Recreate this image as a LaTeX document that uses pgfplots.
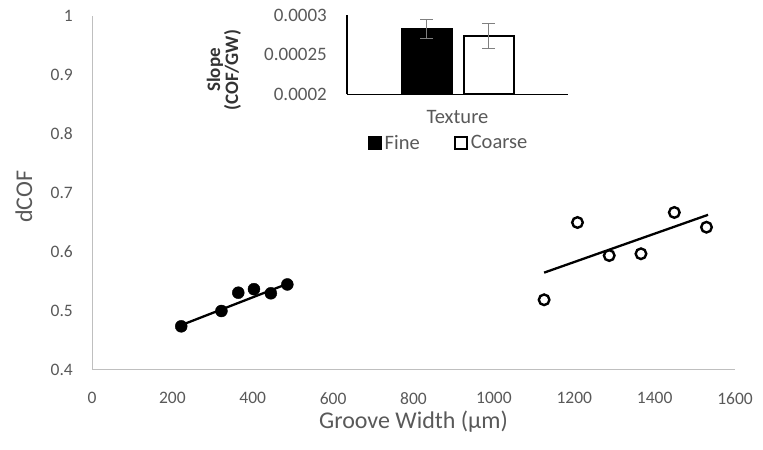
\documentclass[border=0pt]{standalone}
\usepackage{pgfplots}
\pgfplotsset{compat=1.18}
\usepackage{fontspec}
\setmainfont{Carlito}
\definecolor{txt}{HTML}{595959}
\definecolor{axln}{HTML}{BFBFBF}
\begin{document}
\begin{tikzpicture}[x=1bp,y=1bp]
\useasboundingbox (0,0) rectangle (763,450);
\begin{axis}[
  at={(92bp,80bp)}, anchor=south west,
  scale only axis, width=643bp, height=354bp,
  xmin=0, xmax=1600, ymin=0.4, ymax=1,
  axis lines*=left,
  axis line style={axln, line width=1bp},
  xtick={0,200,400,600,800,1000,1200,1400,1600},
  ytick={0.4,0.5,0.6,0.7,0.8,0.9,1},
  major tick length=0pt,
  /pgf/number format/assume math mode=true,
  /pgf/number format/1000 sep={},
  tick label style={font=\fontsize{17.5bp}{20bp}\selectfont, text=txt},
  yticklabel style={anchor=east, inner sep=0pt, xshift=-19bp},
  xticklabel style={anchor=north, inner sep=0pt, yshift=-22bp},
  label style={font=\fontsize{24bp}{28bp}\selectfont, text=txt},
  xlabel={Groove Width (µm)},
  ylabel={dCOF},
  xlabel style={at={(axis description cs:0.5,-0.147)}, anchor=center},
  ylabel style={at={(axis description cs:-0.1058,0.489)}, anchor=center},
  clip=false,
]
% Fine texture
\addplot[only marks, mark=*, mark size=6bp, mark options={fill=black, draw=black}]
  coordinates {(222,0.474) (322,0.500) (364,0.531) (403,0.537) (445,0.530) (486,0.545)};
\addplot[black, line width=2.3bp, no marks]
  coordinates {(222,0.476) (486,0.546)};
% Coarse texture
\addplot[only marks, mark=o, mark size=5.3bp, mark options={draw=black, fill=white, line width=2.4bp}]
  coordinates {(1125,0.519) (1208,0.650) (1287,0.594) (1366,0.597) (1449,0.667) (1529,0.642)};
\addplot[black, line width=2.3bp, no marks]
  coordinates {(1125,0.565) (1533,0.663)};
\end{axis}

\begin{axis}[
  at={(347bp,355.7bp)}, anchor=south west,
  scale only axis, width=221bp, height=79.3bp,
  ybar=12bp, bar width=50bp,
  xmin=-1, xmax=1, ymin=0.0002, ymax=0.0003,
  axis lines*=left,
  axis line style={black, line width=1.5bp},
  xtick=\empty,
  scaled y ticks=false,
  ytick={0.0002,0.00025,0.0003},
  yticklabels={0.0002,0.00025,0.0003},
  major tick length=0pt,
  yticklabel style={anchor=east, inner sep=0pt, xshift=-20bp, font=\fontsize{19bp}{22bp}\selectfont, text=txt},
  xlabel={Texture},
  xlabel style={at={(axis description cs:0.5,-0.286)}, anchor=center, font=\fontsize{20.5bp}{24bp}\selectfont, text=txt},
  ylabel={Slope\\(COF/GW)},
  ylabel style={at={(axis description cs:-0.557,0.306)}, anchor=center, align=center, font=\fontsize{19bp}{17bp}\selectfont\bfseries, text=black!80},
  legend image code/.code={\draw[#1, line width=2bp] (0bp,-6bp) rectangle (12bp,6bp);},
  legend columns=2,
  legend style={draw=none, fill=none, at={(axis description cs:0.095,-0.614)}, anchor=west, inner sep=0pt,
    font=\fontsize{20.5bp}{24bp}\selectfont, text=txt,
    nodes={inner sep=2.5bp},
    /tikz/every even column/.append style={column sep=32bp}},
  legend cell align=left,
]
\addplot[fill=black, draw=black, line width=2bp,
  error bars/.cd, y dir=both, y explicit,
  error bar style={line width=1bp, color=gray},
  error mark options={rotate=90, mark size=6.5bp, line width=1bp, color=gray}]
  coordinates {(0,0.0002823) +- (0,0.0000115)};
\addplot[fill=white, draw=black, line width=2bp,
  error bars/.cd, y dir=both, y explicit,
  error bar style={line width=1bp, color=gray},
  error mark options={rotate=90, mark size=6.5bp, line width=1bp, color=gray}]
  coordinates {(0,0.0002739) +- (0,0.0000157)};
\legend{Fine,Coarse}
\end{axis}
\end{tikzpicture}
\end{document}
